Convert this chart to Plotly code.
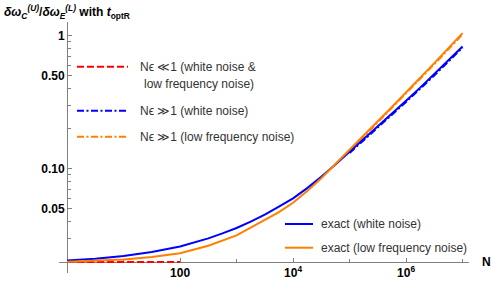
import math
import plotly.graph_objects as go

# ---------------- data ----------------
n_grid = [1, 3.16, 10, 31.6, 100, 316, 562, 1000, 1780, 3160, 5620,
          1e4, 1.78e4, 3.16e4, 5.62e4, 1e5, 1.78e5, 3.16e5, 5.62e5,
          1e6, 1.78e6, 3.16e6, 5.62e6, 1e7]
exact_white = [0.0205, 0.0211, 0.0221, 0.0237, 0.0261, 0.0300, 0.0327, 0.0359, 0.0401, 0.0452, 0.0519,
               0.0600, 0.0716, 0.0871, 0.1079, 0.1343, 0.1671, 0.2080, 0.2594,
               0.3251, 0.4078, 0.5140, 0.6516, 0.8318]
exact_lowfreq = [0.0200, 0.0203, 0.0208, 0.0217, 0.0232, 0.0264, 0.0288, 0.0316, 0.0361, 0.0412, 0.0473,
                 0.0556, 0.0680, 0.0851, 0.1084, 0.1388, 0.1778, 0.2277, 0.2917,
                 0.3737, 0.4815, 0.6237, 0.8084, 1.047]

small_n = [1, 100]
small_limit = [0.0199, 0.0199]

large_n = [1e5, 3.16e5, 1e6, 3.16e6, 1e7]
asym_white = [0.1316, 0.2038, 0.3186, 0.5037, 0.8152]
asym_lowfreq = [0.1360, 0.2231, 0.3662, 0.6112, 1.026]

x_tickvals = [1, 100, 1e4, 1e6]
x_ticktext = ["", "100", "10<sup>4</sup>", "10<sup>6</sup>"]
x_minor = [10, 1e3, 1e5, 1e7]
y_tickvals = [0.05, 0.1, 0.5, 1]
y_ticktext = ["0.05", "0.10", "0.50", "1"]
y_minor = [0.02, 0.03, 0.04, 0.06, 0.07, 0.08, 0.09, 0.2, 0.3, 0.4, 0.6, 0.7, 0.8, 0.9]

legend_top = ["N\u03f5 \u226a1 (white noise &amp;", "low frequency noise)",
              "N\u03f5 \u226b1 (white noise)", "N\u03f5 \u226b1 (low frequency noise)"]
legend_bottom = ["exact (white noise)", "exact (low frequency noise)"]

BLUE = "#0000ff"
ORANGE = "#ff8000"
RED = "#ff0000"
AXIS = "#808080"
FONT = "Liberation Sans, Arial, sans-serif"
DASHDOT = "7px,2.5px,2px,2.5px"

# ---------------- layout geometry ----------------
W, H = 491, 281
L, R, T, B = 59, 22, 22, 8
PW, PH = W - L - R, H - T - B
x_range = [math.log10(0.72), math.log10(1.3e7)]
y_range = [math.log10(0.01648), math.log10(1.27)]


def px(x):
    return (x - L) / PW


def py(y):
    return (H - B - y) / PH


xaxis_pos = (math.log10(0.02) - y_range[0]) / (y_range[1] - y_range[0])
yaxis_pos = (0 - x_range[0]) / (x_range[1] - x_range[0])

fig = go.Figure()

fig.add_trace(go.Scatter(x=small_n, y=small_limit, mode="lines",
                         line=dict(color=RED, width=2, dash="7px,3px"), showlegend=False))
fig.add_trace(go.Scatter(x=large_n, y=asym_white, mode="lines",
                         line=dict(color=BLUE, width=2, dash=DASHDOT), showlegend=False))
fig.add_trace(go.Scatter(x=large_n, y=asym_lowfreq, mode="lines",
                         line=dict(color=ORANGE, width=2, dash=DASHDOT), showlegend=False))
fig.add_trace(go.Scatter(x=n_grid, y=exact_white, mode="lines",
                         line=dict(color=BLUE, width=2), showlegend=False))
fig.add_trace(go.Scatter(x=n_grid, y=exact_lowfreq, mode="lines",
                         line=dict(color=ORANGE, width=2), showlegend=False))

tickfont = dict(family=FONT, size=12, color="black", weight="bold")
fig.update_layout(
    width=W, height=H, autosize=False,
    margin=dict(l=L, r=R, t=T, b=B, pad=0, autoexpand=False),
    paper_bgcolor="white", plot_bgcolor="white",
    font=dict(family=FONT, size=12, color="black"),
    hovermode=False,
    xaxis=dict(type="log", range=x_range, domain=[0, 1], anchor="free", position=xaxis_pos,
               automargin=False,
               showline=True, linecolor=AXIS, linewidth=1, showgrid=False, zeroline=False,
               layer="below traces",
               ticks="inside", ticklen=4, tickcolor=AXIS, tickwidth=1,
               tickvals=x_tickvals, ticktext=x_ticktext, tickfont=tickfont,
               minor=dict(tickvals=x_minor, ticks="inside", ticklen=2.5, tickcolor=AXIS, showgrid=False)),
    yaxis=dict(type="log", range=y_range, domain=[0, 1], anchor="free", position=yaxis_pos,
               automargin=False,
               showline=True, linecolor=AXIS, linewidth=1, showgrid=False, zeroline=False,
               layer="below traces",
               ticks="inside", ticklen=4, tickcolor=AXIS, tickwidth=1,
               tickvals=y_tickvals, ticktext=y_ticktext, tickfont=tickfont,
               minor=dict(tickvals=y_minor, ticks="inside", ticklen=2.5, tickcolor=AXIS, showgrid=False)),
)

ann = []
# title
ann.append(dict(x=px(2), y=py(12), xref="paper", yref="paper", xanchor="left", yanchor="middle",
                showarrow=False, font=dict(size=12, color="black", family=FONT),
                text="<b><i>\u03b4\u03c9</i><sub><i>C</i></sub><sup><i>(U)</i></sup>/<i>\u03b4\u03c9</i>"
                     "<sub><i>E</i></sub><sup><i>(L)</i></sup> with <i>t</i><sub>optR</sub></b>"))
# axis label N
ann.append(dict(x=px(480), y=py(262), xref="paper", yref="paper", xanchor="left", yanchor="middle",
                showarrow=False, text="<b>N</b>", font=dict(size=12, color="black", family=FONT)))

LEG_TXT = "#333333"
shapes = []
# legend 1 (top-left)
shapes.append(dict(type="line", xref="paper", yref="paper", x0=px(77), x1=px(128), y0=py(66.7), y1=py(66.7),
                   line=dict(color=RED, width=2, dash="7px,3px")))
shapes.append(dict(type="line", xref="paper", yref="paper", x0=px(77), x1=px(128), y0=py(110.7), y1=py(110.7),
                   line=dict(color=BLUE, width=2, dash=DASHDOT)))
shapes.append(dict(type="line", xref="paper", yref="paper", x0=px(77), x1=px(128), y0=py(136.7), y1=py(136.7),
                   line=dict(color=ORANGE, width=2, dash=DASHDOT)))
ann.append(dict(x=px(137.5), y=py(67), xref="paper", yref="paper", xanchor="left", yanchor="middle",
                showarrow=False, text=legend_top[0], font=dict(size=12, color=LEG_TXT, family=FONT)))
ann.append(dict(x=px(198.5), y=py(84.3), xref="paper", yref="paper", xanchor="center", yanchor="middle",
                showarrow=False, text=legend_top[1], font=dict(size=12, color=LEG_TXT, family=FONT)))
ann.append(dict(x=px(137.5), y=py(110.7), xref="paper", yref="paper", xanchor="left", yanchor="middle",
                showarrow=False, text=legend_top[2], font=dict(size=12, color=LEG_TXT, family=FONT)))
ann.append(dict(x=px(137.5), y=py(136.7), xref="paper", yref="paper", xanchor="left", yanchor="middle",
                showarrow=False, text=legend_top[3], font=dict(size=12, color=LEG_TXT, family=FONT)))
# legend 2 (bottom-right)
shapes.append(dict(type="line", xref="paper", yref="paper", x0=px(285), x1=px(313), y0=py(224), y1=py(224),
                   line=dict(color=BLUE, width=2)))
shapes.append(dict(type="line", xref="paper", yref="paper", x0=px(285), x1=px(313), y0=py(247.7), y1=py(247.7),
                   line=dict(color=ORANGE, width=2)))
ann.append(dict(x=px(319), y=py(224), xref="paper", yref="paper", xanchor="left", yanchor="middle",
                showarrow=False, text=legend_bottom[0], font=dict(size=12, color=LEG_TXT, family=FONT)))
ann.append(dict(x=px(319), y=py(247.7), xref="paper", yref="paper", xanchor="left", yanchor="middle",
                showarrow=False, text=legend_bottom[1], font=dict(size=12, color=LEG_TXT, family=FONT)))

fig.update_layout(annotations=ann, shapes=shapes)
fig.write_html("out.html", config=dict(displayModeBar=False),
               post_script="document.body.style.margin='0';document.body.style.overflow='hidden';")
